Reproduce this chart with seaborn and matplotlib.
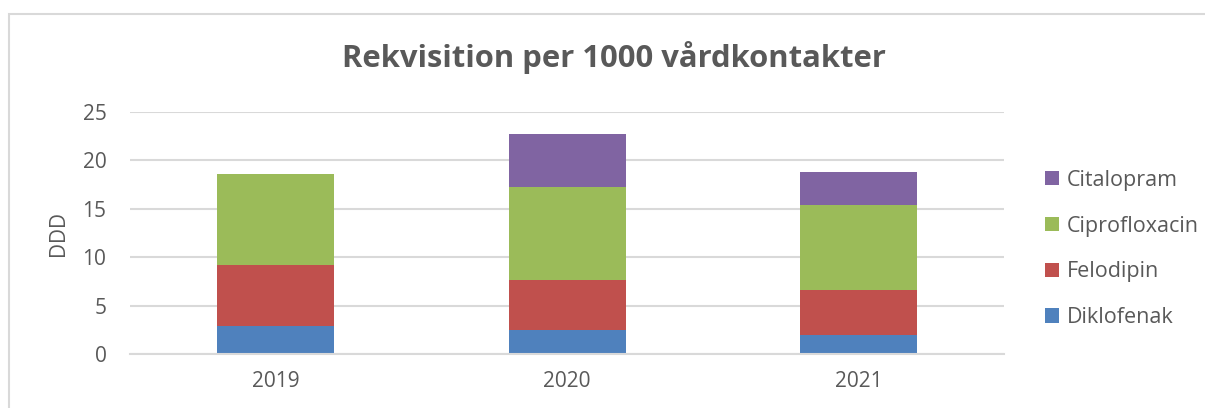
#!/usr/bin/env python3

import numpy as np
import pandas as pd
import matplotlib
matplotlib.use("Agg")
import matplotlib.pyplot as plt
from matplotlib.patches import Patch, Rectangle
import seaborn as sns

# values (DDD per 1000 contacts, stacked)
years = ["2019", "2020", "2021"]
diklofenak = [2.9, 2.5, 2.0]
felodipin = [6.3, 5.1, 4.6]
ciprofloxacin = [9.4, 9.7, 8.8]
citalopram = [0.0, 5.4, 3.4]

series = ["Diklofenak", "Felodipin", "Ciprofloxacin", "Citalopram"]
colors = ["#4F81BD", "#C0504D", "#9BBB59", "#8064A2"]

GREY = "#595959"
GRID = "#D9D9D9"

df = pd.DataFrame({
    "year": years,
    "Diklofenak": diklofenak,
    "Felodipin": felodipin,
    "Ciprofloxacin": ciprofloxacin,
    "Citalopram": citalopram,
})

sns.set_theme(style="white")
plt.rcParams["font.family"] = ["Open Sans", "DejaVu Sans"]

fig = plt.figure(figsize=(12.05, 4.08), dpi=100)
ax = fig.add_axes([130 / 1205, 1 - 354 / 408, 874.5 / 1205, 242 / 408])

bottom = np.zeros(len(years))
for name, col in zip(series, colors):
    sns.barplot(data=df, x="year", y=name, color=col, width=0.4,
                bottom=bottom, linewidth=0, saturation=1, ax=ax)
    bottom = bottom + df[name].to_numpy()

ax.set_xlim(-0.5, 2.5)
ax.set_ylim(0, 25)
ax.set_yticks([0, 5, 10, 15, 20, 25])
ax.yaxis.grid(True, color=GRID, linewidth=1.5)
ax.set_axisbelow(True)
for s in ["top", "right", "left"]:
    ax.spines[s].set_visible(False)
ax.spines["bottom"].set_color(GRID)
ax.spines["bottom"].set_linewidth(1.5)
ax.tick_params(axis="y", length=0, pad=17, labelsize=15, labelcolor=GREY)
ax.tick_params(axis="x", length=0, pad=12, labelsize=15, labelcolor=GREY)
ax.set_xlabel("")
ax.set_ylabel("DDD", fontsize=15, color=GREY, labelpad=10)

fig.text(614 / 1205, 1 - 58 / 408, "Rekvisition per 1000 vårdkontakter",
         ha="center", va="center", fontsize=22.3, fontweight="bold", color=GREY)

handles = [Patch(facecolor=c, edgecolor="none", label=n)
           for n, c in zip(series, colors)][::-1]
fig.legend(handles=handles, loc="center left",
           bbox_to_anchor=(1026 / 1205, 1 - 249 / 408), frameon=False,
           fontsize=15.5, labelcolor=GREY, handlelength=0.65, handleheight=0.65,
           handletextpad=0.35, labelspacing=1.15)

# chart border like the spreadsheet frame
fig.patches.append(Rectangle((9 / 1205, -0.05), 1.1, 0.05 + 1 - 14 / 408,
                             transform=fig.transFigure, fill=False,
                             edgecolor=GRID, linewidth=1.5))

fig.savefig("out.png", dpi=100)
